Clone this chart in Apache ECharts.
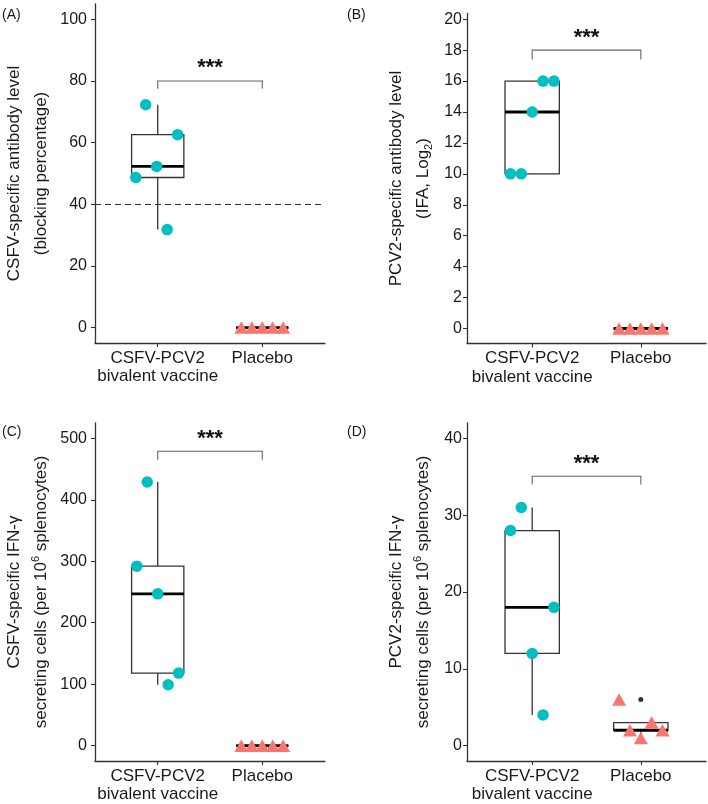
<!DOCTYPE html>
<html>
<head>
<meta charset="utf-8">
<script src="https://cdn.jsdelivr.net/npm/echarts@6/dist/echarts.min.js"></script>
<style>html,body{margin:0;padding:0;background:#fff;}#c{width:708px;height:804px;}</style>
</head>
<body>
<div id="c"></div>
<script>
// ---------- data ----------
const categories = ['CSFV-PCV2\nbivalent vaccine', 'Placebo'];

const aVaccine = [72.3, 62.6, 52.3, 48.7, 31.8];
const aVaccineJitter = [-0.115, 0.19, -0.01, -0.21, 0.09];
const aPlacebo = [0, 0, 0, 0, 0];
const aPlaceboJitter = [-0.2, -0.1, 0, 0.1, 0.2];

const bVaccine = [10, 10, 14, 16, 16];
const bVaccineJitter = [-0.2, -0.1, 0, 0.1, 0.2];
const bPlacebo = [0, 0, 0, 0, 0];
const bPlaceboJitter = [-0.2, -0.1, 0, 0.1, 0.2];

const cVaccine = [429, 292, 247, 118, 99];
const cVaccineJitter = [-0.1, -0.2, 0, 0.2, 0.1];
const cPlacebo = [0, 0, 0, 0, 0];
const cPlaceboJitter = [-0.2, -0.1, 0, 0.1, 0.2];

const dVaccine = [31, 28, 18, 12, 4];
const dVaccineJitter = [-0.1, -0.2, 0.2, 0, 0.1];
const dPlacebo = [6, 2, 1, 3, 2];
const dPlaceboJitter = [-0.2, -0.1, 0, 0.1, 0.2];

const aTicks = [0, 20, 40, 60, 80, 100];
const bTicks = [0, 2, 4, 6, 8, 10, 12, 14, 16, 18, 20];
const cTicks = [0, 100, 200, 300, 400, 500];
const dTicks = [0, 10, 20, 30, 40];

// significance brackets: [bracket y, drop y, label y]
const aSig = [80, 77.5, 85.8];
const bSig = [18, 17.4, 19.1];
const cSig = [479, 465, 507];
const dSig = [35.06, 34, 37.3];
const sigLabel = '***';

const aThreshold = 40;
const panelLabels = ['(A)', '(B)', '(C)', '(D)'];

// ---------- layout / styling ----------
const FONT = 'Liberation Sans, Arial, sans-serif';
const CYAN = '#00BFC4', SALMON = '#F8766D';
const grids = [
  {left: 95, top: 4, width: 230, height: 339},
  {left: 467, top: 13.5, width: 239, height: 330},
  {left: 95, top: 423, width: 230, height: 338},
  {left: 467, top: 423, width: 239, height: 338}
];
const yRanges = [[-5, 105], [-0.97, 20.37], [-25, 525], [-2, 42]];
const labelPos = [[2, 8], [347, 8], [2, 425], [347, 425]];
const nameGaps = [40, 30, 40, 30];
const tickMargins = [8, 5, 8, 5];
const yNames = [
  '{a|CSFV-specific antibody level}\n{a|(blocking percentage)}',
  '{a|PCV2-specific antibody level}\n{a|(IFA, Log}{sub|2}{a|)}',
  '{a|CSFV-specific IFN-γ}\n{a|secreting cells (per 10}{sup|6}{a| splenocytes)}',
  '{a|PCV2-specific IFN-γ}\n{a|secreting cells (per 10}{sup|6}{a| splenocytes)}'
];

const panels = [
  {vac: aVaccine, vj: aVaccineJitter, pla: aPlacebo, pj: aPlaceboJitter, ticks: aTicks, sig: aSig},
  {vac: bVaccine, vj: bVaccineJitter, pla: bPlacebo, pj: bPlaceboJitter, ticks: bTicks, sig: bSig},
  {vac: cVaccine, vj: cVaccineJitter, pla: cPlacebo, pj: cPlaceboJitter, ticks: cTicks, sig: cSig},
  {vac: dVaccine, vj: dVaccineJitter, pla: dPlacebo, pj: dPlaceboJitter, ticks: dTicks, sig: dSig}
];

function quantile(sorted, p) {
  const h = (sorted.length - 1) * p;
  const lo = Math.floor(h), hi = Math.ceil(h);
  return sorted[lo] + (sorted[hi] - sorted[lo]) * (h - lo);
}
function boxStats(vals, pos) {
  const s = vals.slice().sort((a, b) => a - b);
  const q1 = quantile(s, 0.25), med = quantile(s, 0.5), q3 = quantile(s, 0.75);
  const iqr = q3 - q1;
  const inside = s.filter(v => v >= q1 - 1.5 * iqr && v <= q3 + 1.5 * iqr);
  const outliers = s.filter(v => v < q1 - 1.5 * iqr || v > q3 + 1.5 * iqr);
  return {box: [pos, inside[0], q1, med, q3, inside[inside.length - 1]], outliers: outliers.map(v => [pos, v])};
}

function renderBox(params, api) {
  const x = api.value(0);
  const lo = api.value(1), q1 = api.value(2), med = api.value(3), q3 = api.value(4), hi = api.value(5);
  const pTL = api.coord([x - 0.25, q3]);
  const pBR = api.coord([x + 0.25, q1]);
  const cx = api.coord([x, 0])[0];
  const yHi = api.coord([x, hi])[1], yLo = api.coord([x, lo])[1];
  const yMed = api.coord([x, med])[1];
  const stroke = '#333';
  return {
    type: 'group',
    children: [
      {type: 'line', shape: {x1: cx, y1: yHi, x2: cx, y2: pTL[1]}, style: {stroke, lineWidth: 1.3}},
      {type: 'line', shape: {x1: cx, y1: pBR[1], x2: cx, y2: yLo}, style: {stroke, lineWidth: 1.3}},
      {type: 'rect', shape: {x: pTL[0], y: pTL[1], width: pBR[0] - pTL[0], height: pBR[1] - pTL[1]},
        style: {fill: '#fff', stroke, lineWidth: 1.3}},
      {type: 'line', shape: {x1: pTL[0], y1: yMed, x2: pBR[0], y2: yMed}, style: {stroke: '#000', lineWidth: 2.8}}
    ]
  };
}

function renderSig(params, api) {
  const x1 = api.value(0), x2 = api.value(1), y = api.value(2), yd = api.value(3), yl = api.value(4);
  const a = api.coord([x1, yd]), b = api.coord([x1, y]), c = api.coord([x2, y]), d = api.coord([x2, yd]);
  const t = api.coord([(x1 + x2) / 2, yl]);
  return {
    type: 'group',
    children: [
      {type: 'polyline', shape: {points: [a, b, c, d]}, style: {stroke: '#666', lineWidth: 1.1, fill: null}},
      {type: 'text', style: {text: sigLabel, x: t[0], y: t[1] + 5, align: 'center', verticalAlign: 'middle',
        font: 'bold 22px ' + FONT, fill: '#111'}}
    ]
  };
}

const xAxes = [], yAxes = [], series = [];
panels.forEach((p, i) => {
  xAxes.push({
    type: 'value', gridIndex: i, min: 0.4, max: 2.6,
    axisLine: {show: true, onZero: false, lineStyle: {color: '#333', width: 1.3}},
    axisTick: {show: true, length: 4, customValues: [1, 2], lineStyle: {color: '#333', width: 1.1}},
    axisLabel: {customValues: [1, 2], formatter: v => categories[Math.round(v) - 1],
      fontSize: 17, lineHeight: 18.5, margin: 6, color: '#1a1a1a', fontFamily: FONT},
    splitLine: {show: false}
  });
  yAxes.push({
    type: 'value', gridIndex: i, min: yRanges[i][0], max: yRanges[i][1],
    axisLine: {show: true, onZero: false, lineStyle: {color: '#333', width: 1.3}},
    axisTick: {show: true, length: 4, customValues: p.ticks, lineStyle: {color: '#333', width: 1.1}},
    axisLabel: {customValues: p.ticks, fontSize: 16, margin: tickMargins[i], color: '#1a1a1a', fontFamily: FONT},
    splitLine: {show: false},
    name: yNames[i], nameLocation: 'middle', nameGap: nameGaps[i], nameRotate: 90,
    nameTextStyle: {
      rich: {
        a: {fontSize: 17, lineHeight: 27, fontFamily: FONT, color: '#1a1a1a'},
        sub: {fontSize: 11, lineHeight: 27, fontFamily: FONT, color: '#1a1a1a', padding: [10, 0, 0, 0]},
        sup: {fontSize: 11, lineHeight: 27, fontFamily: FONT, color: '#1a1a1a', padding: [0, 0, 11, 0]}
      }
    }
  });
  const sv = boxStats(p.vac, 1), sp = boxStats(p.pla, 2);
  series.push({
    type: 'custom', xAxisIndex: i, yAxisIndex: i, renderItem: renderBox,
    data: [sv.box, sp.box], z: 2,
    markLine: i === 0 ? {
      silent: true, symbol: 'none', animation: false,
      data: [{yAxis: aThreshold}],
      lineStyle: {type: [6, 4], color: '#333', width: 1.1},
      label: {show: false}
    } : undefined
  });
  series.push({
    type: 'scatter', xAxisIndex: i, yAxisIndex: i, z: 3,
    symbol: 'circle', symbolSize: 5, itemStyle: {color: '#000'},
    data: sv.outliers.concat(sp.outliers)
  });
  series.push({
    type: 'scatter', xAxisIndex: i, yAxisIndex: i, z: 4,
    symbol: 'circle', symbolSize: 11.5, itemStyle: {color: CYAN, opacity: 1},
    data: p.vac.map((v, k) => [1 + p.vj[k], v])
  });
  series.push({
    type: 'scatter', xAxisIndex: i, yAxisIndex: i, z: 4,
    symbol: 'triangle', symbolSize: [14, 12.5], itemStyle: {color: SALMON, opacity: 1},
    data: p.pla.map((v, k) => [2 + p.pj[k], v])
  });
  series.push({
    type: 'custom', xAxisIndex: i, yAxisIndex: i, renderItem: renderSig, z: 5,
    data: [[1, 2, p.sig[0], p.sig[1], p.sig[2]]]
  });
});

const chart = echarts.init(document.getElementById('c'), null, {renderer: 'canvas'});
chart.setOption({
  animation: false,
  backgroundColor: '#fff',
  grid: grids,
  xAxis: xAxes,
  yAxis: yAxes,
  series: series,
  graphic: panelLabels.map((t, i) => ({
    type: 'text', left: labelPos[i][0], top: labelPos[i][1],
    style: {text: t, font: '14px ' + FONT, fill: '#1a1a1a'}
  }))
});
</script>
</body>
</html>
